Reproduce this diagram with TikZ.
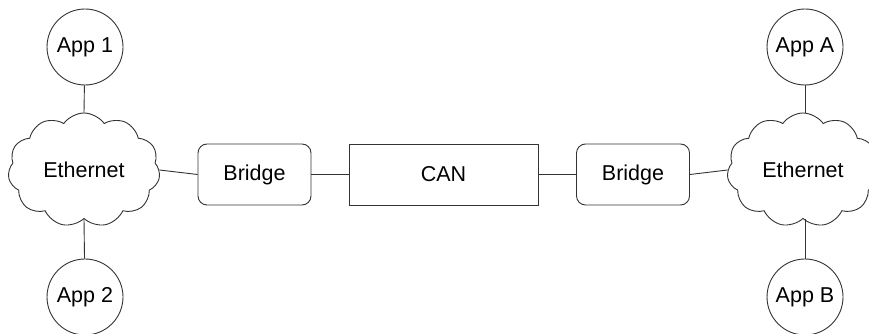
\documentclass[tikz,border=0pt]{standalone}
\usepackage{fontspec}
\setmainfont{Liberation Sans}
\usetikzlibrary{shapes.symbols}

\begin{document}
\begin{tikzpicture}[x=1pt,y=1pt]
			\tikzset{app circle/.style={draw=black!80,line width=0.9pt,circle,minimum size=76pt,inner sep=0pt},
				net cloud/.style={draw=black!80,line width=0.9pt,cloud,cloud puffs=11,cloud puff arc=110,aspect=1.35,minimum width=152pt,minimum height=114pt,inner sep=0pt},
				bridge box/.style={draw=black!80,line width=0.9pt,rounded corners=9pt,minimum width=113pt,minimum height=61pt},
				bus box/.style={draw=black!80,line width=0.9pt,minimum width=189pt,minimum height=61pt},
				link/.style={draw=black!80,line width=0.9pt},
				every node/.append style={font=\fontsize{21.5}{25}\selectfont}}
			\useasboundingbox (0,0) rectangle (869,334);
			
			\node [app circle] (app1) at (85,287) {App 1};
			\node [net cloud] (eth1) at (84,164) {Ethernet};
			\node [app circle] (app2) at (85,37) {App 2};
			\node [bridge box] (bridge1) at (254.5,159.5) {Bridge};
			\node [bus box] (can) at (443.5,159.5) {CAN};
			\node [bridge box] (bridge2) at (633,159.5) {Bridge};
			\node [net cloud] (eth2) at (803,164) {Ethernet};
			\node [app circle] (appA) at (805,287) {App A};
			\node [app circle] (appB) at (805,37) {App B};
			
			\draw [link] (app1) -- (eth1.north);
			\draw [link] (eth1.south) -- (app2);
			\draw [link] (eth1.east) -- (bridge1.west);
			\draw [link] (bridge1) -- (can);
			\draw [link] (can) -- (bridge2);
			\draw [link] (bridge2.east) -- (eth2.west);
			\draw [link] (appA) -- (appA |- eth2.north);
			\draw [link] (appB) -- (appB |- eth2.south);
			\end{tikzpicture}
\end{document}
